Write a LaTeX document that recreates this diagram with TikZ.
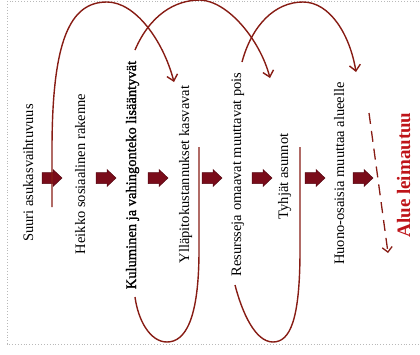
\documentclass[tikz,border=0pt]{standalone}
\usepackage{fontspec}
\setmainfont{Liberation Serif}
\newfontfamily\heavyserif[FakeBold=1.2]{Liberation Serif}
\usetikzlibrary{arrows.meta}
\definecolor{curvecol}{RGB}{135,28,20}
\definecolor{blockcol}{RGB}{122,12,26}
\definecolor{leimacol}{RGB}{190,20,25}
\begin{document}
\begin{tikzpicture}[x=1pt,y=-1pt,
  lbl/.style={rotate=90,anchor=base,inner sep=0pt,font=\fontsize{14.5}{16}\selectfont},
  blockarrow/.style={fill=blockcol,draw=blockcol!70!black,line width=0.5pt,line join=miter},
  loopline/.style={draw=curvecol,line width=1.4pt},
  barbtip/.style={-{Straight Barb[length=6pt,width=11pt]}}]
\useasboundingbox (0,0) rectangle (420,354);
\draw[gray!55,dotted,line width=0.9pt] (7,1) rectangle (440,344);

% texts
\node[lbl] (t1) at (33,173) {Suuri asukasvaihtuvuus};
\node[lbl] (t2) at (85,174) {Heikko sosiaalinen rakenne};
\node[lbl,font=\heavyserif\fontsize{14.5}{16}\selectfont] (t3) at (136,175) {Kuluminen ja vahingonteko lisääntyvät};
\node[lbl] (t4) at (189,174.5) {Ylläpitokustannukset kasvavat};
\node[lbl] (t5) at (241,174.5) {Resursseja omaavat muuttavat pois};
\node[lbl] (t6) at (288,176.5) {Tyhjät asunnot};
\node[lbl] (t7) at (344,173.5) {Huono-osaisia muuttaa alueelle};
\node[lbl,font=\bfseries\fontsize{19}{21}\selectfont,text=leimacol] (t8) at (410,175) {Alue leimautuu};

% block arrows
\foreach \i/\x in {1/52,2/106,3/158,4/212,5/262,6/315,7/363}{
  \coordinate (a\i) at (\x,178);
  \path[blockarrow,shift={(a\i)}] (-10,-5.5) -- (1,-5.5) -- (1,-8.5) -- (10,0)
    -- (1,8.5) -- (1,5.5) -- (-10,5.5) -- cycle;
}

% curve endpoints
\coordinate (As) at (52,207);
\coordinate (Ae) at (174,82);
\coordinate (Bs) at (135,50);
\coordinate (Be) at (270,78);
\coordinate (Cs) at (242,62);
\coordinate (Ce) at (356,72);
\coordinate (Ds) at (199,147);
\coordinate (De) at (135,297);
\coordinate (Es) at (300,147);
\coordinate (Ee) at (235,285);
\coordinate (Fs) at (369,113);
\coordinate (Fe) at (388,253);

% upper loops
\draw[loopline,barbtip] (As) -- (52,150) .. controls (52,40) and (70,2) .. (107,2)
  .. controls (135,2) and (163,40) .. (Ae);
\draw[loopline,barbtip] (Bs) .. controls (150,15) and (175,0) .. (200,0)
  .. controls (228,1) and (260,40) .. (Be);
\draw[loopline,barbtip] (Cs) .. controls (252,25) and (275,2) .. (303,2)
  .. controls (330,2) and (350,35) .. (Ce);

% lower loops
\draw[loopline] (Ds) -- (199,250) .. controls (199,320) and (185,342) .. (167,342)
  .. controls (150,342) and (138,320) .. (De);
\draw[loopline] (Es) -- (300,250) .. controls (300,320) and (290,342) .. (273,342)
  .. controls (255,342) and (242,312) .. (Ee);

% dashed arrow
\draw[curvecol,line width=1.3pt,dash pattern=on 11pt off 7pt,
  -{Straight Barb[length=5pt,width=10pt]}] (Fs) -- (Fe);
\end{tikzpicture}
\end{document}
